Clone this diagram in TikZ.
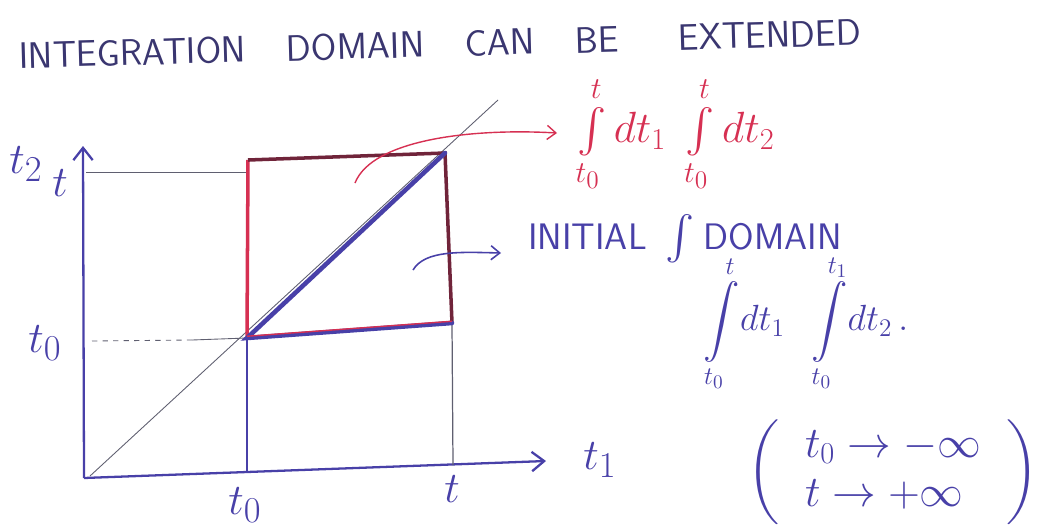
\documentclass[tikz,border=0pt]{standalone}
\usepackage{amsmath}
\usetikzlibrary{arrows.meta}
\definecolor{inkblue}{RGB}{72,64,168}
\definecolor{inkred}{RGB}{214,48,82}
\definecolor{inkdark}{RGB}{112,36,58}
\definecolor{inktitle}{RGB}{58,54,112}
\definecolor{thinline}{RGB}{95,95,112}
\begin{document}
\begin{tikzpicture}[x=0.02cm,y=-0.02cm,
    axis/.style={inkblue, line width=1.3pt},
    guide/.style={thinline, line width=0.5pt},
    lab/.style={inkblue, font=\fontsize{30}{34}\selectfont},
    bluetxt/.style={inkblue, font=\fontsize{22}{26}\selectfont},
    redtxt/.style={inkred, font=\fontsize{27}{30}\selectfont},
    titletxt/.style={inktitle, font=\sffamily\fontsize{21}{24}\selectfont}]
    \useasboundingbox (0,0) rectangle (1038,531);
    % points of the plane
    \coordinate (O) at (84,478);
    \coordinate (ytop) at (83,146);
    \coordinate (xend) at (546,461);
    \coordinate (A) at (247,338);
    \coordinate (B) at (452,323);
    \coordinate (C) at (445,153);
    \coordinate (D) at (248,160);
    \coordinate (t0foot) at (247,472);
    \coordinate (tfoot) at (453,465);
    \coordinate (diag0) at (90,476);
    \coordinate (diag1) at (498,100);
    \coordinate (tlev) at (86,172);
    \coordinate (tlevend) at (247,172);
    \coordinate (t0lev) at (92,341);
    \coordinate (t0dash) at (192,340);
    % axes
    \draw[axis, -{Straight Barb[length=7pt, width=11pt]}] (O) -- (ytop);
    \draw[axis, -{Straight Barb[length=7pt, width=11pt]}] (O) -- (xend);
    % thin guides
    \draw[guide] (diag0) -- (diag1);
    \draw[guide] (tlev) -- (tlevend);
    \draw[guide, dashed] (t0lev) -- (t0dash);
    \draw[guide] (t0dash) -- (A);
    \draw[axis, line width=1pt] (t0foot) -- (A);
    \draw[guide, line width=0.7pt] (tfoot) -- (B);
    % square domain
    \draw[inkred, line width=2pt] (A) -- (D);
    \draw[inkdark, line width=2pt] (D) -- (C) -- (B);
    % initial domain
    \draw[inkblue, line width=2.6pt, line cap=round] (B) -- (A) -- (C);
    \draw[inkred, line width=0.8pt] ([yshift=1pt]A) -- ([yshift=1pt]B);
    % labels
    \node[lab] (lt2) at (26,164) {$t_2$};
    \node[lab, font=\fontsize{25}{28}\selectfont] (lt) at (60,183) {$t$};
    \node[lab] (lt0) at (45,343) {$t_0$};
    \node[lab] (bt0) at (245,505) {$t_0$};
    \node[lab] (bt) at (452,489) {$t$};
    \node[lab] (lt1) at (600,460) {$t_1$};
    % extended integral
    \node[redtxt] (redint) at (676,134) {$\int\limits_{t_0}^{t} dt_1\;\int\limits_{t_0}^{t} dt_2$};
    \coordinate (rstart) at (355,183);
    \coordinate (rtip) at (557,133);
    \draw[inkred, line width=0.8pt, -{Straight Barb[length=5pt, width=8pt]}] (rstart) .. controls (372,140) and (470,128) .. (rtip);
    % initial integral
    \node[bluetxt, anchor=west, font=\sffamily\fontsize{21}{24}\selectfont] (initial) at (522,239) {INITIAL\hspace{0.5em}{\fontsize{31}{31}\selectfont$\int$}\hspace{0.25em}DOMAIN};
    \node[bluetxt] (blueint) at (806,323) {$\displaystyle\int\limits_{t_0}^{t}\! dt_1\;\;\int\limits_{t_0}^{t_1}\! dt_2\,.$};
    \coordinate (bstart) at (413,270);
    \coordinate (btip) at (501,253);
    \draw[inkblue, line width=0.9pt, -{Straight Barb[length=5pt, width=8pt]}] (bstart) .. controls (425,250) and (460,252) .. (btip);
    % limits
    \node[bluetxt, font=\fontsize{24}{28}\selectfont] (lims) at (893,472) {$\left(\hspace{0.6em}\begin{array}{@{}l@{}} t_0 \rightarrow -\infty \\ t \rightarrow +\infty \end{array}\hspace{0.6em}\right)$};
    % title
    \node[titletxt, rotate=1.6] (title) at (440,44) {INTEGRATION\hspace{1.1em}DOMAIN\hspace{1.1em}CAN\hspace{1.1em}BE\hspace{1.6em}EXTENDED};
\end{tikzpicture}
\end{document}
